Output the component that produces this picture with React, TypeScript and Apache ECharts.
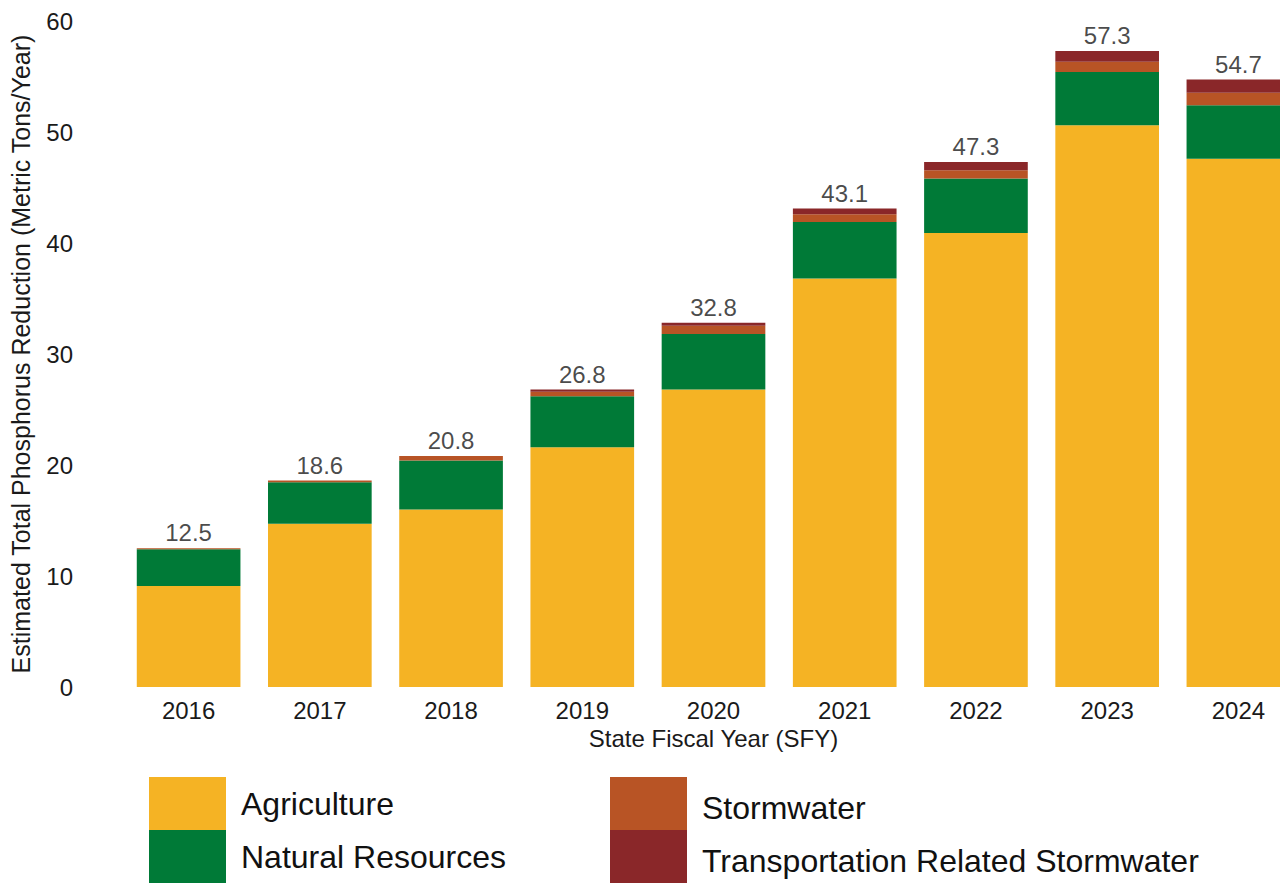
import React, { useEffect, useRef } from "react";
import * as echarts from "echarts";

const years = ["2016", "2017", "2018", "2019", "2020", "2021", "2022", "2023", "2024"];
const agriculture = [9.1, 14.7, 16.0, 21.6, 26.8, 36.8, 40.9, 50.6, 47.6];
const naturalResources = [3.3, 3.75, 4.4, 4.6, 5.0, 5.1, 4.9, 4.8, 4.8];
const stormwater = [0.1, 0.15, 0.4, 0.4, 0.75, 0.7, 0.75, 0.93, 1.14];
const transportation = [0, 0, 0, 0.2, 0.27, 0.5, 0.75, 0.96, 1.2];
const totals = [12.5, 18.6, 20.8, 26.8, 32.8, 43.1, 47.3, 57.3, 54.7];

const FONT = "Liberation Sans, Arial, sans-serif";
const TXT = "#1a1a1a";

export default function App() {
  const ref = useRef<HTMLDivElement>(null);
  useEffect(() => {
    if (!ref.current) return;
    const chart = echarts.init(ref.current, undefined, { renderer: "svg" });
    const barBase = {
      type: "bar" as const,
      stack: "total",
      barCategoryGap: "21%",
      silent: true,
    };
    chart.setOption({
      animation: false,
      textStyle: { fontFamily: FONT },
      grid: { left: 120, right: 0, top: 21, bottom: 196 },
      legend: [
        {
          data: ["Agriculture", "Natural Resources"],
          orient: "vertical",
          left: 149,
          top: 777,
          itemWidth: 77,
          itemHeight: 53,
          itemGap: 0,
          icon: "rect",
          selectedMode: false,
          padding: 0,
          textStyle: { fontSize: 32, color: "#111", fontFamily: FONT, padding: [0, 0, 0, 10] },
        },
        {
          data: ["Stormwater", "Transportation Related Stormwater"],
          orient: "vertical",
          left: 610,
          top: 777,
          itemWidth: 77,
          itemHeight: 53,
          itemGap: 0,
          icon: "rect",
          selectedMode: false,
          padding: 0,
          formatter: "{a|{name}}",
          textStyle: {
            fontSize: 32,
            color: "#111",
            fontFamily: FONT,
            padding: [0, 0, 0, 10],
            rich: { a: { fontSize: 32, color: "#111", fontFamily: FONT, padding: [8, 0, 0, 0] } },
          },
        },
      ],
      xAxis: {
        type: "category",
        data: years,
        axisLine: { show: false },
        axisTick: { show: false },
        axisLabel: { fontSize: 24, color: TXT, margin: 11, fontFamily: FONT },
        name: "State Fiscal Year (SFY)",
        nameLocation: "middle",
        nameGap: 39,
        nameTextStyle: { fontSize: 24, color: TXT, fontFamily: FONT },
      },
      yAxis: {
        type: "value",
        min: 0,
        max: 60,
        interval: 10,
        splitLine: { show: false },
        axisLine: { show: false },
        axisTick: { show: false },
        axisLabel: { fontSize: 24, color: TXT, margin: 50, fontFamily: FONT },
        name: "Estimated Total Phosphorus Reduction (Metric Tons/Year)",
        nameLocation: "middle",
        nameGap: 90,
        nameTextStyle: { fontSize: 25, color: TXT, fontFamily: FONT },
      },
      series: [
        { ...barBase, name: "Agriculture", data: agriculture, itemStyle: { color: "#F5B324" } },
        { ...barBase, name: "Natural Resources", data: naturalResources, itemStyle: { color: "#007A37" } },
        { ...barBase, name: "Stormwater", data: stormwater, itemStyle: { color: "#B85425" } },
        { ...barBase, name: "Transportation Related Stormwater", data: transportation, itemStyle: { color: "#8A2729" } },
        {
          type: "scatter",
          name: "Total",
          data: totals,
          symbolSize: 1,
          silent: true,
          itemStyle: { color: "transparent" },
          label: {
            show: true,
            position: "top",
            distance: 3,
            fontSize: 24,
            color: TXT,
            fontFamily: FONT,
          },
        },
      ],
    });
    return () => chart.dispose();
  }, []);
  return (
    <div style={{ position: "fixed", left: 0, top: 0, width: 1280, height: 883, overflow: "hidden", background: "#fff" }}>
      <div ref={ref} style={{ width: 1304, height: 883 }} />
    </div>
  );
}
